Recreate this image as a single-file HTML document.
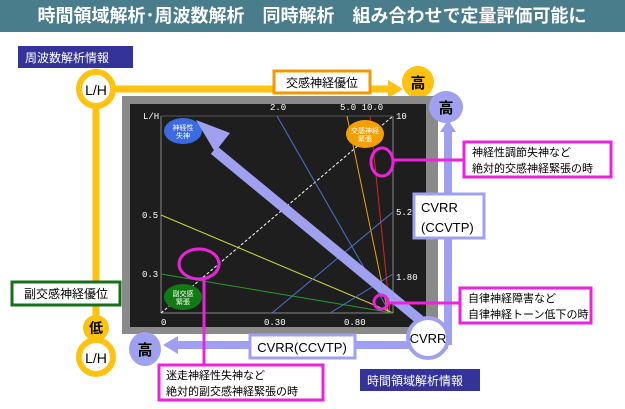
<!DOCTYPE html>
<html><head><meta charset="utf-8"><style>
body{margin:0;width:625px;height:404px;overflow:hidden;background:#fff;font-family:"Liberation Sans","Noto Sans CJK JP",sans-serif}
</style></head><body>
<svg width="625" height="404" xmlns="http://www.w3.org/2000/svg" font-family="Liberation Sans, Noto Sans CJK JP, sans-serif">
<rect x="0" y="0" width="625" height="32" fill="#4a7d8c"/>
<text x="312" y="22" fill="#fff" font-size="18" font-weight="bold" text-anchor="middle">時間領域解析･周波数解析　同時解析　組み合わせで定量評価可能に</text>
<rect x="18" y="46" width="115" height="22" fill="#333399"/>
<text x="25" y="62" fill="#fff" font-size="12">周波数解析情報</text>
<line x1="96" y1="89" x2="392" y2="89" stroke="#ffc20e" stroke-width="7"/>
<polygon points="388,80 403,89 388,98" fill="#ffc20e"/>
<line x1="96" y1="89" x2="96" y2="358" stroke="#ffc20e" stroke-width="7"/>
<circle cx="418" cy="82" r="16" fill="#ffc20e"/>
<text x="418" y="88" font-size="15" font-weight="bold" text-anchor="middle">高</text>
<rect x="274" y="71" width="96" height="22" fill="#fff" stroke="#f39800" stroke-width="3"/>
<text x="322" y="87" font-size="12" text-anchor="middle">交感神経優位</text>
<circle cx="96" cy="89" r="17" fill="#fff" stroke="#ffc20e" stroke-width="6"/>
<text x="96" y="95" font-size="14" text-anchor="middle">L/H</text>
<rect x="12" y="282" width="108" height="23" fill="#fff" stroke="#1a6e1a" stroke-width="3"/>
<text x="66" y="298" font-size="12" text-anchor="middle">副交感神経優位</text>
<circle cx="96" cy="328" r="13" fill="#ffc20e"/>
<text x="96" y="333" font-size="14" font-weight="bold" text-anchor="middle">低</text>
<circle cx="96" cy="357" r="17" fill="#fff" stroke="#ffc20e" stroke-width="6"/>
<text x="96" y="363" font-size="14" text-anchor="middle">L/H</text>
<rect x="122" y="96" width="316" height="238" fill="#8a8a8a"/>
<rect x="130" y="104" width="296" height="223" fill="#1e1e1e"/>
<g stroke-width="1" fill="none">
<line x1="161" y1="116" x2="161" y2="313" stroke="#888"/>
<line x1="161" y1="313" x2="393" y2="313" stroke="#888"/>
<line x1="393" y1="116" x2="393" y2="313" stroke="#888"/>
<line x1="161" y1="116" x2="393" y2="116" stroke="#555"/>
<line x1="161" y1="313" x2="393" y2="116" stroke="#fff" stroke-dasharray="3,2"/>
<line x1="277" y1="116" x2="390" y2="313" stroke="#4a74d0"/>
<line x1="347" y1="116" x2="388" y2="313" stroke="#f5a000"/>
<line x1="370" y1="116" x2="390" y2="313" stroke="#e02020"/>
<line x1="161" y1="215" x2="393" y2="313" stroke="#c8d840"/>
<line x1="161" y1="274" x2="393" y2="313" stroke="#2a9a2a"/>
<line x1="272" y1="313" x2="393" y2="212" stroke="#4a74d0"/>
<line x1="330" y1="313" x2="393" y2="274" stroke="#4a74d0"/>
</g>
<g fill="#fff" font-size="9" font-family="Liberation Mono, monospace">
<text x="143" y="119">L/H</text><text x="270" y="110">2.0</text><text x="340" y="110">5.0 10.0</text>
<text x="396" y="119">10</text><text x="142" y="218">0.5</text><text x="142" y="277">0.3</text>
<text x="161" y="325">0</text><text x="264" y="325">0.30</text><text x="344" y="325">0.80</text>
<text x="396" y="215">5.20</text><text x="396" y="280">1.80</text>
</g>
<ellipse cx="183" cy="131" rx="19" ry="13" fill="#3c6ae0"/>
<ellipse cx="365" cy="134" rx="19" ry="14" fill="#f5a000"/>
<ellipse cx="183" cy="297" rx="19" ry="13" fill="#127a12"/>
<g fill="#fff" font-size="7" text-anchor="middle"><text x="183" y="130">神経性</text><text x="183" y="138">失神</text>
<text x="365" y="133">交感神経</text><text x="365" y="141">緊張</text><text x="183" y="296">副交感</text><text x="183" y="304">緊張</text></g>
<line x1="420" y1="320" x2="214" y2="150" stroke="#a0a0f0" stroke-width="10"/>
<polygon points="196,120 230,133 215,152" fill="#a0a0f0"/>
<line x1="448" y1="130" x2="448" y2="345" stroke="#a0a0f0" stroke-width="8"/>
<polygon points="440,132 448,120 456,132" fill="#a0a0f0"/>
<line x1="448" y1="345" x2="175" y2="345" stroke="#a0a0f0" stroke-width="8"/>
<polygon points="178,336 163,345 178,354" fill="#a0a0f0"/>
<ellipse cx="446" cy="107" rx="17" ry="16" fill="#a0a0f0"/>
<text x="446" y="113" font-size="15" font-weight="bold" text-anchor="middle">高</text>
<ellipse cx="145" cy="349" rx="16" ry="17" fill="#a0a0f0"/>
<text x="145" y="355" font-size="15" font-weight="bold" text-anchor="middle">高</text>
<circle cx="428" cy="338" r="20" fill="#fff" stroke="#a0a0f0" stroke-width="4"/>
<text x="428" y="343" font-size="13" text-anchor="middle">CVRR</text>
<rect x="250" y="335" width="105" height="23" fill="#fff" stroke="#a0a0f0" stroke-width="3"/>
<text x="302" y="352" font-size="13" text-anchor="middle">CVRR(CCVTP)</text>
<rect x="414" y="194" width="70" height="44" fill="#fff" stroke="#a0a0f0" stroke-width="3"/>
<text x="421" y="212" font-size="13">CVRR</text><text x="421" y="232" font-size="13">(CCVTP)</text>
<g stroke="#ee22dd" stroke-width="3" fill="none">
<ellipse cx="382" cy="162" rx="11" ry="14"/>
<ellipse cx="199" cy="264" rx="20" ry="15"/>
<circle cx="381" cy="302" r="7"/>
<line x1="393" y1="160" x2="463" y2="160"/>
<line x1="388" y1="303" x2="460" y2="303"/>
<line x1="204" y1="279" x2="204" y2="365"/>
</g>
<rect x="464" y="142" width="147" height="35" fill="#fff" stroke="#ee22dd" stroke-width="3"/>
<text x="472" y="156" font-size="11">神経性調節失神など</text><text x="472" y="172" font-size="11">絶対的交感神経緊張の時</text>
<rect x="460" y="288" width="131" height="35" fill="#fff" stroke="#ee22dd" stroke-width="3"/>
<text x="468" y="302" font-size="11">自律神経障害など</text><text x="468" y="318" font-size="11">自律神経トーン低下の時</text>
<rect x="159" y="365" width="164" height="35" fill="#fff" stroke="#ee22dd" stroke-width="3"/>
<text x="166" y="379" font-size="11">迷走神経性失神など</text><text x="166" y="395" font-size="11">絶対的副交感神経緊張の時</text>
<rect x="360" y="369" width="120" height="22" fill="#333399"/>
<text x="367" y="385" fill="#fff" font-size="12">時間領域解析情報</text>
</svg>
</body></html>
